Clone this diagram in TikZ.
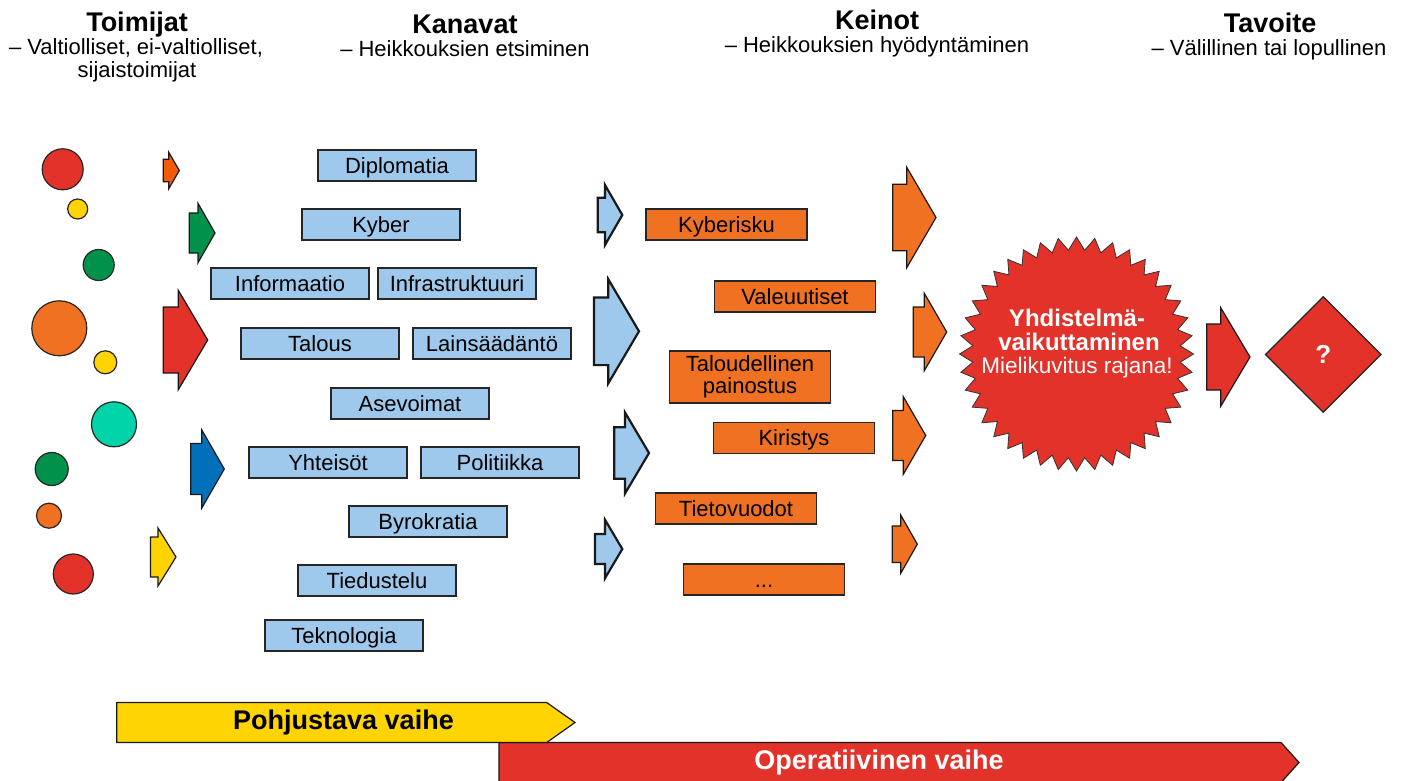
\documentclass[tikz,border=0pt]{standalone}
\usepackage{fontspec}
\setmainfont{Liberation Sans}
\usetikzlibrary{shapes.geometric}
\definecolor{cred}{HTML}{E2322A}
\definecolor{corange}{HTML}{F07121}
\definecolor{credor}{HTML}{F55A0A}
\definecolor{cgreen}{HTML}{00914A}
\definecolor{cyellow}{HTML}{FFD400}
\definecolor{cteal}{HTML}{00D4A8}
\definecolor{cblue}{HTML}{0070BA}
\definecolor{clblue}{HTML}{9FC9EC}
\newcommand{\fatarr}[7]{\draw[#1] (#2,#5-#6) -- (#3,#5-#6) -- (#3,#5-#7) -- (#4,#5) -- (#3,#5+#7) -- (#3,#5+#6) -- (#2,#5+#6) -- cycle;}
\tikzset{
  blbox/.style={draw=black!85, line width=1.2pt, fill=clblue, minimum width=158pt, minimum height=31pt, inner sep=0pt, text height=15.5pt, text depth=0pt, font=\fontsize{22}{24}\selectfont},
  obox/.style={blbox, fill=corange, minimum width=161pt},
  dot/.style={circle, draw=black!85, line width=1.2pt, inner sep=0pt},
  arr/.style={draw=black!90, line width=1.2pt, line join=miter},
  barr/.style={arr, line width=2.2pt, fill=clblue},
  hdr/.style={font=\bfseries\fontsize{27}{30}\selectfont, anchor=base},
  subt/.style={font=\fontsize{22}{24}\selectfont, anchor=base},
  bursttxt/.style={text=white, anchor=base},
}
\begin{document}
\begin{tikzpicture}[x=1pt,y=-1pt]
\useasboundingbox (0,0) rectangle (1402,781);
% headers
\node[hdr] (h1) at (137,32) {Toimijat};
\node[subt] (s1) at (136,55) {– Valtiolliset, ei-valtiolliset,};
\node[subt] (s1b) at (137,78) {sijaistoimijat};
\node[hdr] (h2) at (465,34) {Kanavat};
\node[subt] (s2) at (465,57) {– Heikkouksien etsiminen};
\node[hdr] (h3) at (877,30) {Keinot};
\node[subt] (s3) at (877,53) {– Heikkouksien hyödyntäminen};
\node[hdr] (h4) at (1270,33) {Tavoite};
\node[subt] (s4) at (1269,56) {– Välillinen tai lopullinen};
% actors
\node[dot, fill=cred, minimum size=41pt] (c1) at (62.7,169.3) {};
\node[dot, fill=cyellow, minimum size=20pt] (c2) at (77.7,209) {};
\node[dot, fill=cgreen, minimum size=31pt] (c3) at (98.7,265) {};
\node[dot, fill=corange, minimum size=55pt] (c4) at (59.3,328.3) {};
\node[dot, fill=cyellow, minimum size=23pt] (c5) at (105.3,362.3) {};
\node[dot, fill=cteal, minimum size=45pt] (c6) at (114,424.3) {};
\node[dot, fill=cgreen, minimum size=33pt] (c7) at (51.7,469) {};
\node[dot, fill=corange, minimum size=25pt] (c8) at (49,515.7) {};
\node[dot, fill=cred, minimum size=40pt] (c9) at (73.3,574) {};
% actor arrows
\fatarr{arr, fill=credor}{163.3}{168.7}{179.3}{170.5}{11.3}{18.3}
\fatarr{arr, fill=cgreen}{189.3}{198}{215}{233}{20}{29.7}
\fatarr{arr, fill=cred}{163.3}{178.3}{207.7}{340}{33}{49.7}
\fatarr{arr, fill=cblue}{190.7}{201.7}{224.3}{469}{25.5}{39.2}
\fatarr{arr, fill=cyellow}{150.5}{158}{176}{557}{20}{29}
% channels
\node[blbox] (k1) at (397,165.5) {Diplomatia};
\node[blbox] (k2) at (381,224.5) {Kyber};
\node[blbox] (k3) at (290,283.5) {Informaatio};
\node[blbox] (k4) at (457,283.5) {Infrastruktuuri};
\node[blbox] (k5) at (320,343.5) {Talous};
\node[blbox] (k6) at (492,343.5) {Lainsäädäntö};
\node[blbox] (k7) at (410,403.5) {Asevoimat};
\node[blbox] (k8) at (328,462.5) {Yhteisöt};
\node[blbox] (k9) at (500,462.5) {Politiikka};
\node[blbox] (k10) at (428,521.5) {Byrokratia};
\node[blbox] (k11) at (377,580.5) {Tiedustelu};
\node[blbox] (k12) at (344,635.5) {Teknologia};
% blue arrows
\fatarr{barr}{597.7}{605}{622.3}{215}{17.2}{30}
\fatarr{barr}{594}{608.3}{639}{331.3}{33.8}{52}
\fatarr{barr}{614.3}{625}{649}{453}{25.8}{40.5}
\fatarr{barr}{595}{605}{622.3}{549}{15}{29.2}
% means
\node[obox] (m1) at (726.5,224.5) {Kyberisku};
\node[obox] (m2) at (795,296.5) {Valeuutiset};
\node[draw=black!85, line width=1.2pt, fill=corange, minimum width=161.5pt, minimum height=52pt, inner sep=0pt, align=center, font=\fontsize{22}{21.5}\selectfont] (m3) at (750,377) {Taloudellinen\\painostus};
\node[obox] (m4) at (794,438) {Kiristys};
\node[obox] (m5) at (736,508.5) {Tietovuodot};
\node[obox] (m6) at (764,579.5) {...};
% orange arrows
\fatarr{arr, fill=corange}{892.7}{906.7}{936}{217.5}{33.2}{50.2}
\fatarr{arr, fill=corange}{913.3}{924.3}{946.7}{332}{25}{38.7}
\fatarr{arr, fill=corange}{892.7}{903.3}{925.7}{435.5}{25}{38.8}
\fatarr{arr, fill=corange}{892.3}{900.7}{917.3}{544.2}{18.3}{29.2}
% burst
\node[star, star points=40, star point ratio=1.125, minimum size=234pt, inner sep=0pt, fill=cred, draw=black!80, line width=0.8pt] (burst) at (1076.5,354) {};
\node[bursttxt, font=\bfseries\fontsize{24}{24}\selectfont] (bt1) at (1077,326.7) {Yhdistelmä-};
\node[bursttxt, font=\bfseries\fontsize{24}{24}\selectfont] (bt2) at (1079,350) {vaikuttaminen};
\node[bursttxt, font=\fontsize{22.5}{24}\selectfont] (bt3) at (1077,373.3) {Mielikuvitus rajana!};
% goal
\fatarr{arr, fill=cred}{1206.7}{1220.7}{1250}{357}{33}{49.3}
\node[diamond, aspect=1, minimum size=116pt, inner sep=0pt, fill=cred, draw=black!85, line width=1.2pt, text=white, font=\bfseries\fontsize{26}{26}\selectfont] (goal) at (1323.3,354.5) {?};
% phases
\fatarr{arr, fill=cred}{499}{1281}{1299}{762.5}{20}{20}
\fatarr{arr, fill=cyellow}{116.7}{546.7}{575}{722.5}{20}{20}
\node[font=\bfseries\fontsize{27}{30}\selectfont] (p1) at (343.5,722.5) {Pohjustava vaihe};
\node[font=\bfseries\fontsize{27}{30}\selectfont, text=white] (p2) at (879,762.5) {Operatiivinen vaihe};
\end{tikzpicture}
\end{document}
